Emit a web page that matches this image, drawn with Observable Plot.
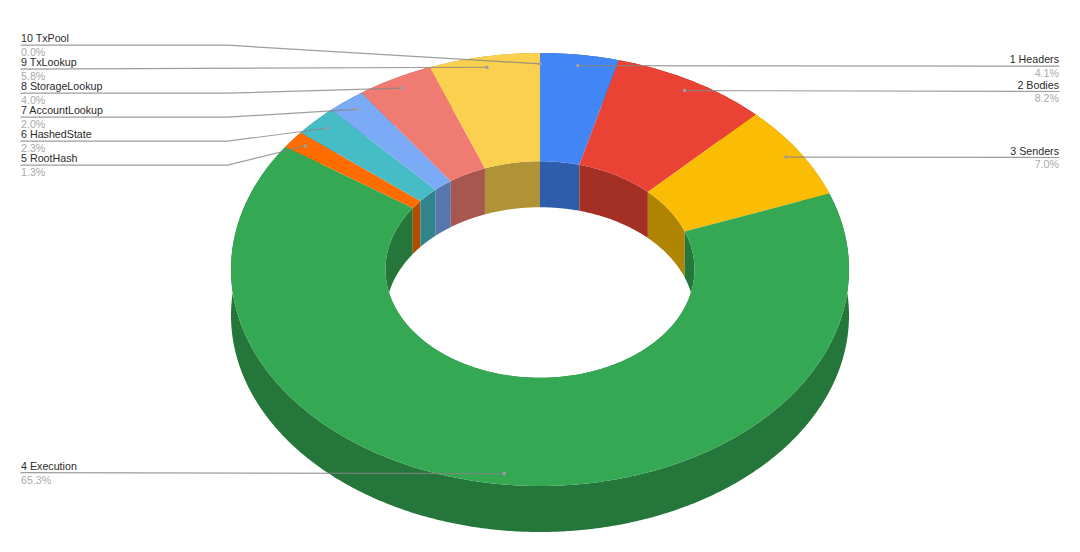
<!DOCTYPE html>
<html>
<head>
<meta charset="utf-8">
<script src="https://cdn.jsdelivr.net/npm/d3@7"></script>
<script src="https://cdn.jsdelivr.net/npm/@observablehq/plot@0.6"></script>
<style>
html,body{margin:0;padding:0;background:#fff}
svg{display:block}
</style>
</head>
<body>
<div id="chart"></div>
<script>
// Data
const names = ["1 Headers","2 Bodies","3 Senders","4 Execution","5 RootHash","6 HashedState","7 AccountLookup","8 StorageLookup","9 TxLookup","10 TxPool"];
const percents = [4.1,8.2,7.0,65.3,1.3,2.3,2.0,4.0,5.8,0.0];
// Style and layout, separate from the values
const palette = ["#4285f4","#ea4335","#fbbc04","#34a853","#ff6d01","#46bdc6","#7baaf7","#f07b72","#fcd04f","#f1f1f1"];
const labelSides = ["right","right","right","left","left","left","left","left","left","left"];
const leaderYs = [65.7,91,157,472.2,164.7,140.7,116.7,92.7,68.7,44.7];
const labelLeft = 20.5, labelRight = 1058.5, elbowLeft = 227;
const cx = 539.5, cy = 269, rx = 309, ry = 216.5, hole = 0.5, depth = 46, anchorR = 0.95;

const total = d3.sum(percents);
let acc = 0;
const slices = percents.map((p,i)=>{
  const a0 = acc/total*2*Math.PI; acc += p;
  const a1 = acc/total*2*Math.PI;
  return {i, name:names[i], pct:p, a0, a1, mid:(a0+a1)/2, fill:palette[i], wall:d3.color(palette[i]).darker(1).formatHex(), side:labelSides[i], ly:leaderYs[i]};
});
const pt = (a,f,dy=0)=>[cx+f*rx*Math.sin(a), cy-f*ry*Math.cos(a)+dy];
function arc(s,f,dy,rev){
  const n = Math.max(2,Math.ceil((s.a1-s.a0)/(Math.PI/360)));
  const out = d3.range(n+1).map(k=>pt(s.a0+(s.a1-s.a0)*k/n,f,dy));
  return rev?out.reverse():out;
}
const poly = (s,ring,color)=>ring.map(([x,y])=>({x,y,id:s.i,color}));
const live = slices.filter(s=>s.pct>0);
const outerWalls = live.flatMap(s=>poly(s,[...arc(s,1,0,false),...arc(s,1,depth,true)],s.wall));
const innerWalls = live.flatMap(s=>poly(s,[...arc(s,hole,0,false),...arc(s,hole,depth,true)],s.wall));
const faces = live.flatMap(s=>poly(s,[...arc(s,1,0,false),...arc(s,hole,0,true)],s.fill));

const anchors = slices.map(s=>{const [x,y]=pt(s.mid,anchorR);return {...s,x,y};});
const leaders = anchors.flatMap(s=>{
  const pts = s.side==="right"
    ? [[labelRight,s.ly],[s.x,s.y]]
    : (Math.abs(s.y-s.ly)<2 || s.i===3
        ? [[labelLeft,s.ly],[s.x,s.y]]
        : [[labelLeft,s.ly],[elbowLeft,s.ly],[s.x,s.y]]);
  return pts.map(([x,y])=>({x,y,id:s.i}));
});
const labels = anchors.map(s=>({...s,lx:s.side==="right"?labelRight:labelLeft}));
const textFont = "'Liberation Sans', Arial, sans-serif";
const lineOpts = {x:"x",y:"y",z:"id",fill:"color",stroke:"none"};

const chart = Plot.plot({
  width:1080,height:552,margin:0,
  style:{background:"#fff"},
  x:{domain:[0,1080],range:[0,1080],axis:null},
  y:{domain:[0,552],range:[0,552],axis:null},
  color:{type:"identity"},
  marks:[
    Plot.line(outerWalls,lineOpts),
    Plot.line(innerWalls,lineOpts),
    Plot.line(faces,lineOpts),
    Plot.line(leaders,{x:"x",y:"y",z:"id",stroke:"#858585",strokeWidth:1.2,strokeOpacity:0.8,curve:"linear"}),
    Plot.dot(anchors,{x:"x",y:"y",r:1.8,fill:"#9e9e9e",stroke:"none"}),
    ...["left","right"].flatMap(side=>{
      const d = labels.filter(s=>s.side===side);
      const common = {x:"lx",y:"ly",textAnchor:side==="left"?"start":"end",lineAnchor:"bottom",fontSize:10.7,fontFamily:textFont};
      return [
        Plot.text(d,{...common,text:"name",dy:-3,fill:"#2a2a2a"}),
        Plot.text(d,{...common,text:s=>s.pct.toFixed(1)+"%",dy:10.8,fill:"#aaaaaa"})
      ];
    })
  ]
});
document.getElementById("chart").append(chart);
</script>
</body>
</html>
